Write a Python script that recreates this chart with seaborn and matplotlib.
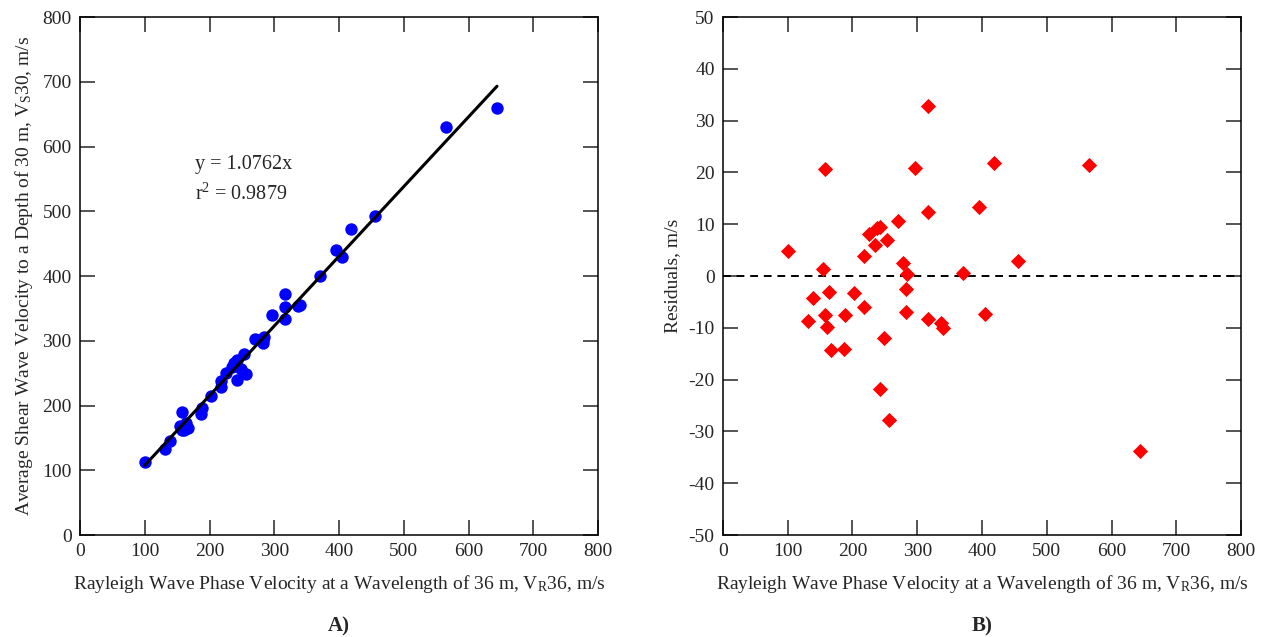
import matplotlib
matplotlib.use("Agg")
import matplotlib.pyplot as plt
import seaborn as sns
import pandas as pd
import numpy as np

# Rayleigh wave phase velocity VR36 (m/s)
vr36 = [100, 131, 139, 155, 157, 158, 160, 163, 167, 187,
        189, 202, 217, 218, 225, 235, 238, 242, 243, 249,
        254, 257, 271, 278, 282, 282, 284, 296, 316, 316,
        317, 337, 340, 371, 396, 405, 419, 455, 565, 644]
# average shear wave velocity VS30 (m/s)
vs30 = [112.4, 132.4, 145.3, 168.2, 161.5, 190.6, 162.4, 172.3, 165.4, 187.2,
        195.9, 214.2, 237.3, 228.7, 250.2, 258.8, 265.4, 269.9, 239.7, 256.0,
        280.3, 248.8, 302.3, 301.8, 301.0, 296.6, 305.9, 339.4, 372.9, 352.4,
        332.9, 353.6, 355.8, 399.8, 439.5, 428.6, 472.7, 492.6, 629.6, 659.3]
# residuals (m/s)
resid = [4.8, -8.6, -4.3, 1.4, -7.5, 20.6, -9.8, -3.1, -14.3, -14.1,
         -7.5, -3.2, 3.8, -5.9, 8.1, 5.9, 9.3, 9.5, -21.8, -12.0,
         6.9, -27.8, 10.6, 2.6, -2.5, -6.9, 0.3, 20.8, 32.8, 12.3,
         -8.3, -9.1, -10.1, 0.5, 13.3, -7.3, 21.8, 2.9, 21.5, -33.8]
slope = 1.0762
r2 = 0.9879

df = pd.DataFrame({"vr36": vr36, "vs30": vs30, "resid": resid})

sns.set_style("ticks")
plt.rcParams["font.family"] = ["Liberation Serif", "DejaVu Serif"]
plt.rcParams["mathtext.fontset"] = "custom"
plt.rcParams["mathtext.rm"] = "Liberation Serif"
plt.rcParams["mathtext.it"] = "Liberation Serif"
plt.rcParams["axes.linewidth"] = 1.1
plt.rcParams["axes.unicode_minus"] = False

fig = plt.figure(figsize=(12.74, 6.37), dpi=100)
ax1 = fig.add_axes([0.0628, 0.1601, 0.4066, 0.8132])
ax2 = fig.add_axes([0.5675, 0.1601, 0.4066, 0.8132])

xlab = "Rayleigh Wave Phase Velocity at a Wavelength of 36 m, V$_\\mathregular{R}$36, m/s"

# A) VS30 vs VR36
sns.scatterplot(data=df, x="vr36", y="vs30", ax=ax1, color="#0000FF",
                s=80, linewidth=0, zorder=3)
xf = np.array([min(vr36), max(vr36)])
ax1.plot(xf, slope * xf, color="black", lw=2.2, zorder=4)
ax1.text(177, 572, f"y = {slope}x", fontsize=14.5, va="center")
ax1.text(177, 526, f"r$^\\mathregular{{2}}$ = {r2}", fontsize=14.5, va="center")
ax1.set_xlim(0, 800)
ax1.set_ylim(0, 800)
ax1.set_xticks(range(0, 801, 100))
ax1.set_yticks(range(0, 801, 100))
ax1.set_xlabel(xlab, fontsize=14, labelpad=9)
ax1.set_ylabel("Average Shear Wave Velocity to a Depth of 30 m, V$_\\mathregular{S}$30, m/s",
               fontsize=14, labelpad=5)

# B) residuals
sns.scatterplot(data=df, x="vr36", y="resid", ax=ax2, color="#FF0000",
                marker="D", s=60, linewidth=0, zorder=3)
ax2.axhline(0, color="black", lw=1.4, ls=(0, (4, 3)), zorder=2)
ax2.set_xlim(0, 800)
ax2.set_ylim(-50, 50)
ax2.set_xticks(range(0, 801, 100))
ax2.set_yticks(range(-50, 51, 10))
ax2.set_xlabel(xlab, fontsize=14, labelpad=9)
ax2.set_ylabel("Residuals, m/s", fontsize=14, labelpad=5)

for ax in (ax1, ax2):
    ax.tick_params(direction="in", length=11, width=1.1, labelsize=14,
                   top=True, right=True, pad=6)
    for sp in ax.spines.values():
        sp.set_visible(True)
        sp.set_color("black")

fig.text(0.0628 + 0.4066 / 2, 0.008, "A)", fontsize=15, fontweight="bold", ha="center")
fig.text(0.5675 + 0.4066 / 2, 0.008, "B)", fontsize=15, fontweight="bold", ha="center")

fig.savefig("out.png", dpi=100)
